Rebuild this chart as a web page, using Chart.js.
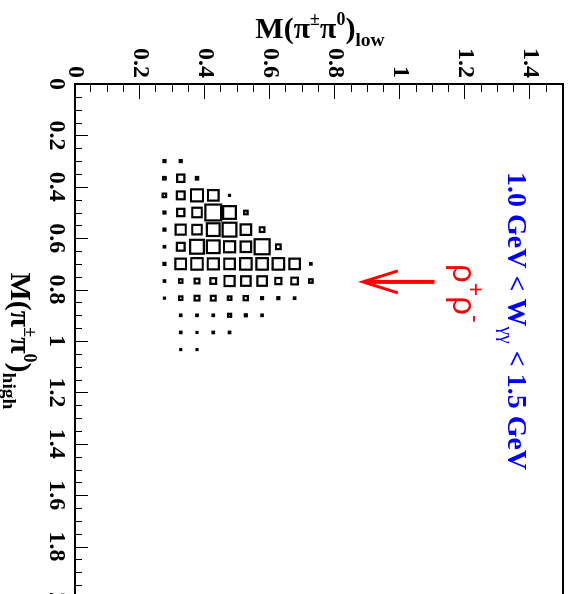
<!DOCTYPE html>
<html><head><meta charset="utf-8">
<script src="https://cdn.jsdelivr.net/npm/chart.js@4.4.1/dist/chart.umd.min.js"></script>
<style>
html,body{margin:0;padding:0;background:#fff;overflow:hidden;width:571px;height:594px;}
#wrap{position:absolute;left:0;top:0;width:620px;height:571px;transform-origin:0 0;transform:translate(571px,0) rotate(90deg);}
canvas{display:block;}
</style></head><body>
<div id="wrap"><canvas id="c" width="620" height="571"></canvas></div>
<script>
// ---- data ----
const M_HIGH_BINS = [0.3, 0.3667, 0.4333, 0.5, 0.5667, 0.6333, 0.7, 0.7667, 0.8333, 0.9, 0.9667, 1.0333];
const M_LOW_BINS  = [0.275, 0.325, 0.375, 0.425, 0.475, 0.525, 0.575, 0.625, 0.675, 0.725];
const BIN_HIGH = 2 / 30;
const BIN_LOW = 0.05;
// box content (relative, 100 = full cell) per M_high row, one value per M_low bin
const row_0300 = [12, 12, 0, 0, 0, 0, 0, 0, 0, 0];
const row_0367 = [15, 44, 15, 0, 0, 0, 0, 0, 0, 0];
const row_0433 = [21, 47, 72, 63, 6, 0, 0, 0, 0, 0];
const row_0500 = [12, 44, 57, 95, 76, 21, 0, 0, 0, 0];
const row_0567 = [12, 60, 57, 76, 83, 63, 28, 0, 0, 0];
const row_0633 = [9, 47, 83, 76, 66, 63, 90, 28, 0, 0];
const row_0700 = [12, 63, 69, 66, 63, 69, 69, 69, 63, 9];
const row_0767 = [9, 21, 28, 34, 60, 57, 57, 37, 40, 21];
const row_0833 = [6, 21, 28, 28, 21, 25, 12, 12, 9, 0];
const row_0900 = [0, 9, 9, 9, 18, 12, 9, 0, 0, 0];
const row_0967 = [0, 9, 6, 9, 9, 0, 0, 0, 0, 0];
const row_1033 = [0, 6, 6, 0, 0, 0, 0, 0, 0, 0];
const ROWS = [row_0300, row_0367, row_0433, row_0500, row_0567, row_0633, row_0700, row_0767, row_0833, row_0900, row_0967, row_1033];
const X_RANGE = [0, 2];     // M(pi pi0) high
const Y_RANGE = [0, 1.5];   // M(pi pi0) low
const MAJOR_STEP = 0.2;
const MINOR_STEP = 0.05;
const ARROW_X = 0.77;       // rho mass
const ARROW_FROM = 1.105;
const ARROW_TO = 0.885;
const LABEL_RANGE = '1.0 GeV < W';
const LABEL_RANGE2 = ' < 1.5 GeV';

const points = [];
ROWS.forEach((row, i) => row.forEach((v, j) => { if (v > 0) points.push({x: M_HIGH_BINS[i], y: M_LOW_BINS[j], v}); }));

const SERIF = '"Liberation Serif","Times New Roman",serif';
const SANS = '"Liberation Sans",Arial,sans-serif';

function drawRich(ctx, parts, x, y, align, size, family, weight, color) {
  let w = 0;
  const items = parts.map(p => {
    const sc = p[1] || 1, sh = p[2] || 0, wt = p[3] || weight;
    const f = `${wt} ${size * sc}px ${family}`;
    ctx.font = f;
    const tw = ctx.measureText(p[0]).width;
    w += tw;
    return {t: p[0], f, tw, dy: -sh * size};
  });
  let cx = align === 'center' ? x - w / 2 : (align === 'right' ? x - w : x);
  ctx.fillStyle = color; ctx.textAlign = 'left'; ctx.textBaseline = 'alphabetic';
  items.forEach(it => { ctx.font = it.f; ctx.fillText(it.t, cx, y + it.dy); cx += it.tw; });
}

function isMajor(v) { const r = v / MAJOR_STEP; return Math.abs(r - Math.round(r)) < 1e-6; }
function fmt(v) { return String(+v.toFixed(1)); }

function boxRadius(ctx) {
  const ch = ctx.chart, sx = ch.scales.x, sy = ch.scales.y;
  if (!sx || !sy || !ctx.raw) return 0;
  const cw = Math.abs(sx.getPixelForValue(BIN_HIGH) - sx.getPixelForValue(0));
  const chh = Math.abs(sy.getPixelForValue(BIN_LOW) - sy.getPixelForValue(0));
  return ((cw + chh) / 2) * ctx.raw.v / 100 / Math.SQRT2;
}

const decor = {
  id: 'decor',
  afterDraw(chart) {
    const ctx = chart.ctx, a = chart.chartArea, sx = chart.scales.x, sy = chart.scales.y;
    ctx.save();
    // inside ticks
    ctx.strokeStyle = '#000'; ctx.lineWidth = 1;
    sx.ticks.forEach(t => {
      const px = Math.round(sx.getPixelForValue(t.value)) + 0.5;
      const len = isMajor(t.value) ? 13 : 7;
      ctx.beginPath(); ctx.moveTo(px, a.bottom); ctx.lineTo(px, a.bottom - len); ctx.stroke();
    });
    sy.ticks.forEach(t => {
      const py = Math.round(sy.getPixelForValue(t.value)) + 0.5;
      const len = isMajor(t.value) ? 15 : 8;
      ctx.beginPath(); ctx.moveTo(a.left, py); ctx.lineTo(a.left + len, py); ctx.stroke();
    });
    // frame
    ctx.lineWidth = 2;
    ctx.strokeRect(a.left, a.top, a.right - a.left, a.bottom - a.top);
    // axis titles
    const tParts = (sub) => [['M(π', 1], ['±', 0.6, 0.42], ['π', 1], ['0', 0.6, 0.42], [')', 1], [sub, 0.65, -0.28]];
    drawRich(ctx, tParts('high'), (a.left + a.right) / 2, 560, 'center', 30, SERIF, 'bold', '#000');
    ctx.save();
    ctx.translate(38, 251);
    ctx.rotate(-Math.PI / 2);
    drawRich(ctx, tParts('low'), 0, 0, 'center', 30, SERIF, 'bold', '#000');
    ctx.restore();
    // labels
    drawRich(ctx, [[LABEL_RANGE, 1], ['γγ', 0.7, -0.3, 'normal'], [LABEL_RANGE2, 1]], 172, 63, 'left', 28, SERIF, 'bold', '#0000ff');
    drawRich(ctx, [['ρ', 1], ['+', 0.7, 0.45], ['ρ', 1], ['-', 0.7, 0.45]], 264, 118, 'left', 33, SANS, 'normal', '#ff0000');
    // arrow
    const ax = sx.getPixelForValue(ARROW_X), ay1 = sy.getPixelForValue(ARROW_FROM), ay2 = sy.getPixelForValue(ARROW_TO);
    ctx.strokeStyle = '#ff0000'; ctx.lineWidth = 4; ctx.lineCap = 'butt';
    ctx.beginPath(); ctx.moveTo(ax, ay1); ctx.lineTo(ax, ay2 - 2); ctx.stroke();
    ctx.lineWidth = 3;
    ctx.beginPath(); ctx.moveTo(ax - 11, ay2 - 35); ctx.lineTo(ax, ay2); ctx.lineTo(ax + 11, ay2 - 35); ctx.stroke();
    ctx.restore();
  }
};

const tickFont = {family: SERIF, size: 24, weight: 'bold'};
new Chart(document.getElementById('c'), {
  type: 'scatter',
  data: {datasets: [{
    data: points,
    pointStyle: 'rect',
    backgroundColor: 'rgba(0,0,0,0)',
    borderColor: '#000',
    pointBorderWidth: 2.2,
    pointHoverBorderWidth: 2.2,
    pointRadius: boxRadius,
    pointHoverRadius: boxRadius
  }]},
  options: {
    responsive: false, animation: false, devicePixelRatio: 1, events: [],
    layout: {autoPadding: false, padding: {left: 0, top: 8, right: 22, bottom: 0}},
    plugins: {legend: {display: false}, tooltip: {enabled: false}},
    scales: {
      x: {
        type: 'linear', position: 'bottom', min: X_RANGE[0], max: X_RANGE[1],
        grid: {display: false, drawTicks: false}, border: {display: false},
        afterFit: (s) => { s.height = 75; s.paddingLeft = 0; s.paddingRight = 0; },
        ticks: {stepSize: MINOR_STEP, autoSkip: false, maxRotation: 0, minRotation: 0, padding: 4,
          color: '#000', font: tickFont, callback: (v) => isMajor(v) ? fmt(v) : ''}
      },
      y: {
        type: 'linear', position: 'left', min: Y_RANGE[0], max: Y_RANGE[1],
        grid: {display: false, drawTicks: false}, border: {display: false},
        afterFit: (s) => { s.width = 84; s.paddingTop = 0; s.paddingBottom = 0; },
        ticks: {stepSize: MINOR_STEP, autoSkip: false, padding: 6,
          color: '#000', font: tickFont, callback: (v) => isMajor(v) ? fmt(v) : ''}
      }
    }
  },
  plugins: [decor]
});
</script></body></html>
